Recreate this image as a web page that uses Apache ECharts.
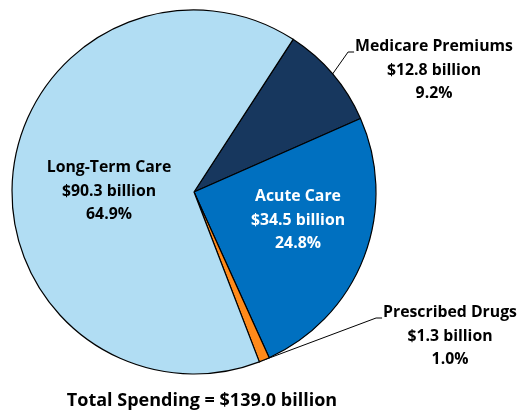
<!DOCTYPE html>
<html>
<head>
<meta charset="utf-8">
<script src="https://cdn.jsdelivr.net/npm/echarts@6/dist/echarts.min.js"></script>
<style>
  html, body { margin: 0; padding: 0; background: #ffffff; }
  #chart { width: 526px; height: 413px; }
</style>
</head>
<body>
<div id="chart"></div>
<script>
// Spending by category, $ billion (clockwise from the Medicare slice)
const categories = ['Medicare Premiums', 'Acute Care', 'Prescribed Drugs', 'Long-Term Care'];
const spending = [12.8, 34.5, 1.3, 90.3];
const shareLabels = ['9.2%', '24.8%', '1.0%', '64.9%'];
const totalSpending = '139.0';

const sliceColors = ['#17375E', '#0070C0', '#FF8A1A', '#B1DDF3'];
const labelColors = ['#000000', '#FFFFFF', '#000000', '#000000'];
const outsideLabel = [true, false, true, false];

// label block placement: centre x, y (top for callouts, middle for inside labels)
const labelSpots = [
  { x: 434, y: 35 },
  { x: 298, y: 220 },
  { x: 450, y: 301 },
  { x: 109, y: 191 }
];
const FONT = '"Open Sans", "Liberation Sans", sans-serif';

const chart = echarts.init(document.getElementById('chart'), null, { renderer: 'canvas' });

const pieData = categories.map((name, i) => ({
  name: name,
  value: spending[i],
  itemStyle: { color: sliceColors[i] },
  label: {
    position: outsideLabel[i] ? 'outside' : 'inside',
    color: labelColors[i]
  },
  labelLine: { show: outsideLabel[i] }
}));

chart.setOption({
  animation: false,
  backgroundColor: '#ffffff',
  title: {
    text: 'Total Spending = $' + totalSpending + ' billion',
    left: 197,
    top: 387,
    textAlign: 'center',
    textStyle: { fontFamily: FONT, fontWeight: 'bold', fontSize: 18, color: '#000000' }
  },
  series: [{
    type: 'pie',
    center: [194, 192],
    radius: 182,
    startAngle: 57,
    clockwise: true,
    avoidLabelOverlap: false,
    itemStyle: { borderColor: '#000000', borderWidth: 1.2 },
    label: {
      show: true,
      fontFamily: FONT,
      fontWeight: 'bold',
      fontSize: 15.8,
      lineHeight: 23.5,
      align: 'center',
      formatter: p => p.name + '\n$' + spending[p.dataIndex].toFixed(1) + ' billion\n' + shareLabels[p.dataIndex]
    },
    labelLine: {
      lineStyle: { color: '#000000', width: 1 },
      length: 20,
      length2: 6
    },
    labelLayout: function (p) {
      const i = p.dataIndex;
      const spot = labelSpots[i];
      const out = {
        x: spot.x,
        y: spot.y,
        align: 'center',
        verticalAlign: outsideLabel[i] ? 'top' : 'middle'
      };
      if (outsideLabel[i] && p.labelLinePoints) {
        const anchor = p.labelLinePoints[0];
        const left = spot.x - p.labelRect.width / 2 - 1;
        const hookY = spot.y + 17;
        out.labelLinePoints = [anchor, [left - 6, hookY], [left, hookY]];
      }
      return out;
    },
    emphasis: { disabled: true },
    data: pieData
  }]
});
</script>
</body>
</html>
